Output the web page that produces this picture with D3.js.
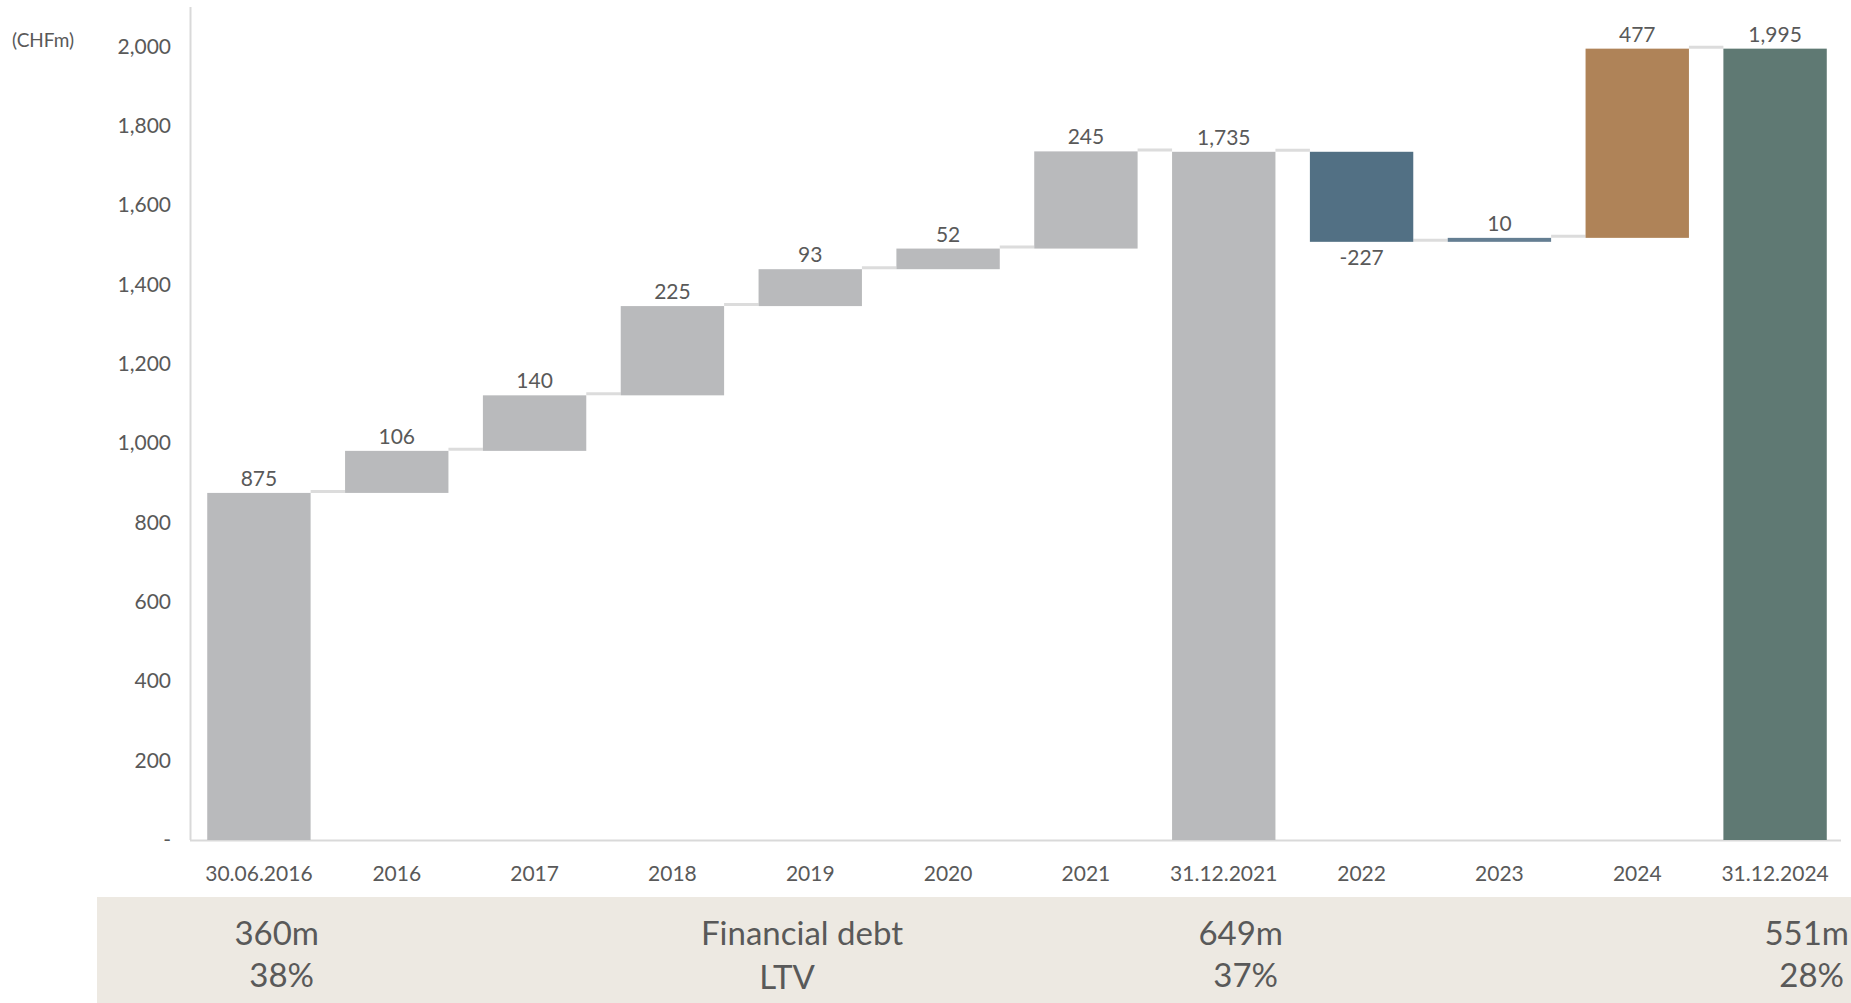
<!DOCTYPE html>
<html>
<head>
<meta charset="utf-8">
<script src="https://cdn.jsdelivr.net/npm/d3@7"></script>
<style>
  html, body { margin: 0; padding: 0; background: #ffffff; }
  svg { display: block; font-family: Lato, "Open Sans", sans-serif; }
</style>
</head>
<body>
<svg id="chart" width="1851" height="1003"></svg>
<script>
// ---- data ----
const categories = ["30.06.2016","2016","2017","2018","2019","2020","2021","31.12.2021","2022","2023","2024","31.12.2024"];
const values     = [875, 106, 140, 225, 93, 52, 245, 1735, -227, 10, 477, 1995];
const isTotal    = [true, false, false, false, false, false, false, true, false, false, false, true];
const barColors  = ["#B9BABC","#B9BABC","#B9BABC","#B9BABC","#B9BABC","#B9BABC","#B9BABC","#B9BABC","#527084","#647E92","#AF8358","#5F7973"];
const yTicks     = [0, 200, 400, 600, 800, 1000, 1200, 1400, 1600, 1800, 2000];
const unitLabel  = "(CHFm)";
const footerDebt = [{cat: "30.06.2016", debt: "360m", ltv: "38%"}, {cat: "31.12.2021", debt: "649m", ltv: "37%"}, {cat: "31.12.2024", debt: "551m", ltv: "28%"}];
const footerTitle = ["Financial debt", "LTV"];

// ---- layout ----
const svg = d3.select("#chart");
const textColor = "#595959";
const axisColor = "#D9D9D9";
const fmt = v => d3.format(",")(v).replace("\u2212", "-");

const x = d3.scaleBand().domain(categories).range([190, 1844]).paddingInner(0.25).paddingOuter(0.125);
const y = d3.scaleLinear().domain([0, 2100]).range([840, 7]);

// compute waterfall segments
let running = 0;
const bars = categories.map((c, i) => {
  let start, end;
  if (isTotal[i]) { start = 0; end = values[i]; running = values[i]; }
  else { start = running; end = running + values[i]; running = end; }
  return {cat: c, value: values[i], start, end, total: isTotal[i], color: barColors[i], level: running};
});

// axes lines
svg.append("line").attr("x1", 190.5).attr("x2", 190.5).attr("y1", y(2100)).attr("y2", y(0))
  .attr("stroke", axisColor).attr("stroke-width", 2);
svg.append("line").attr("x1", 190).attr("x2", 1841).attr("y1", y(0) + 0.5).attr("y2", y(0) + 0.5)
  .attr("stroke", axisColor).attr("stroke-width", 2);

// y tick labels
svg.append("g").selectAll("text").data(yTicks).join("text")
  .attr("x", 171).attr("y", d => y(d) + 7)
  .attr("text-anchor", "end").attr("font-size", 21).attr("fill", textColor)
  .text(d => d === 0 ? "-" : fmt(d));

svg.append("text").attr("x", 12).attr("y", 47).attr("font-size", 19).attr("fill", textColor).text(unitLabel);

// connectors
svg.append("g").selectAll("line").data(bars.slice(0, -1)).join("line")
  .attr("x1", d => x(d.cat) + x.bandwidth())
  .attr("x2", (d, i) => x(categories[i + 1]))
  .attr("y1", d => y(d.level) - 1.5).attr("y2", d => y(d.level) - 1.5)
  .attr("stroke", "#DCDCDC").attr("stroke-width", 3);

// bars
svg.append("g").selectAll("rect").data(bars).join("rect")
  .attr("x", d => x(d.cat)).attr("width", x.bandwidth())
  .attr("y", d => y(Math.max(d.start, d.end)))
  .attr("height", d => Math.abs(y(d.start) - y(d.end)))
  .attr("fill", d => d.color);

// value labels
svg.append("g").selectAll("text").data(bars).join("text")
  .attr("x", d => x(d.cat) + x.bandwidth() / 2)
  .attr("y", d => d.value < 0 ? y(Math.min(d.start, d.end)) + 23 : y(Math.max(d.start, d.end)) - 7)
  .attr("text-anchor", "middle").attr("font-size", 21).attr("fill", textColor)
  .text(d => fmt(d.value));

// category labels
svg.append("g").selectAll("text").data(categories).join("text")
  .attr("x", d => x(d) + x.bandwidth() / 2).attr("y", 881)
  .attr("text-anchor", "middle").attr("font-size", 21).attr("fill", textColor)
  .text(d => d);

// footer box
svg.append("rect").attr("x", 97).attr("y", 897).attr("width", 1851 - 97).attr("height", 1003 - 897).attr("fill", "#EDE9E2");

const footerRight = {"30.06.2016": 319, "31.12.2021": 1283, "31.12.2024": 1849};
const fg = svg.append("g");
fg.selectAll("text.debt").data(footerDebt).join("text").attr("class", "debt")
  .attr("x", d => footerRight[d.cat]).attr("y", 945)
  .attr("text-anchor", "end").attr("font-size", 33).attr("fill", textColor).text(d => d.debt);
fg.selectAll("text.ltv").data(footerDebt).join("text").attr("class", "ltv")
  .attr("x", d => footerRight[d.cat] - 5).attr("y", 987)
  .attr("text-anchor", "end").attr("font-size", 33).attr("fill", textColor).text(d => d.ltv);
fg.append("text").attr("x", 802).attr("y", 945).attr("text-anchor", "middle")
  .attr("font-size", 33).attr("fill", textColor).text(footerTitle[0]);
fg.append("text").attr("x", 787).attr("y", 989).attr("text-anchor", "middle")
  .attr("font-size", 33).attr("fill", textColor).text(footerTitle[1]);
</script>
</body>
</html>
